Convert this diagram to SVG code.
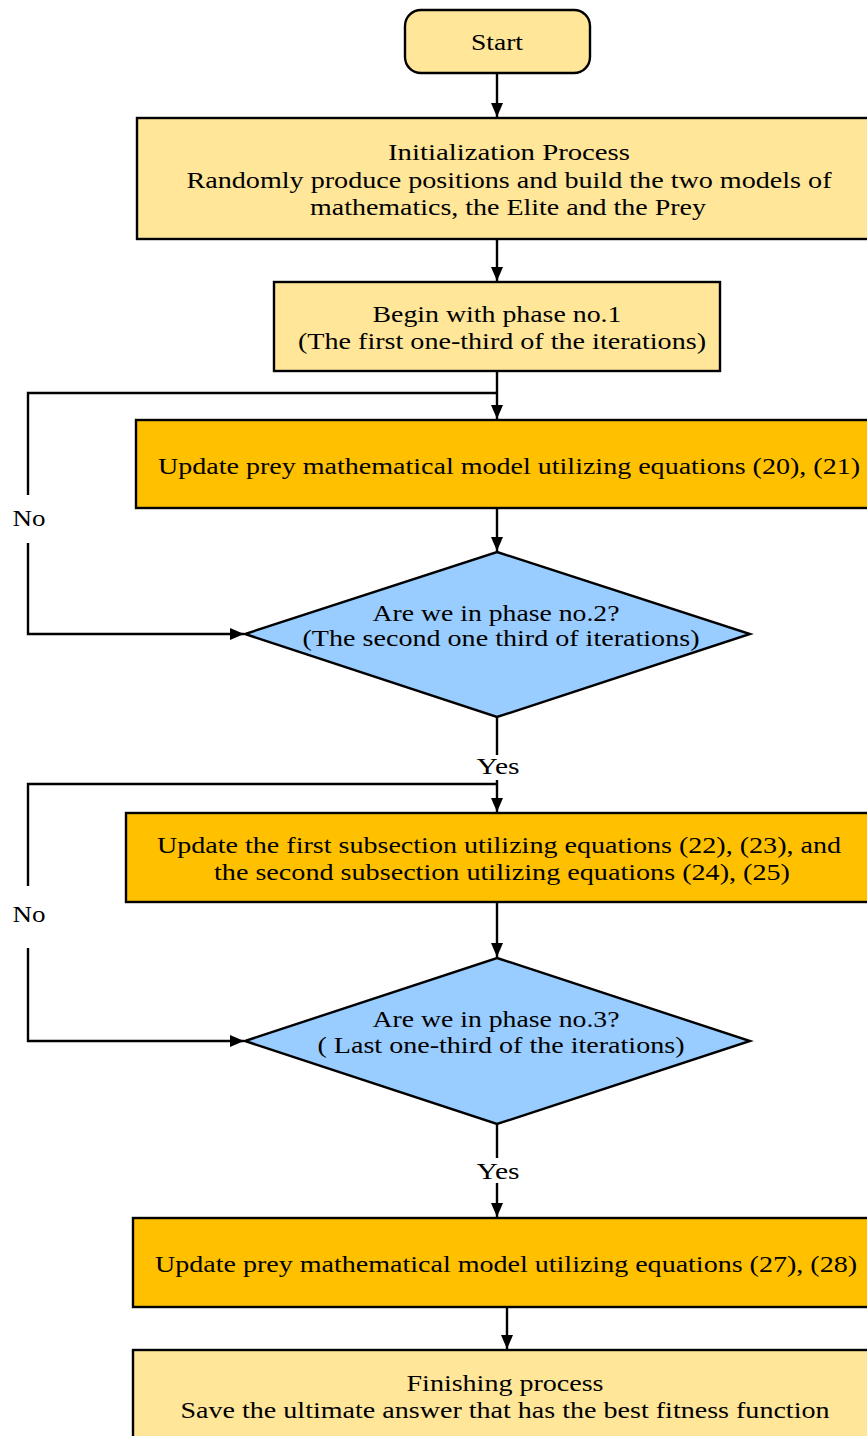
<svg xmlns="http://www.w3.org/2000/svg" width="867" height="1436" viewBox="0 0 867 1436">
<style>
.box{stroke:#000;stroke-width:2.4}
.light{fill:#FFE699}
.orange{fill:#FFC000}
.blue{fill:#99CCFF}
text{font-family:"Liberation Serif","Times New Roman",serif;font-size:24px;fill:#000;text-anchor:middle}
.conn path{fill:none;stroke:#000;stroke-width:2.4}
</style>
<defs>
<marker id="arr" viewBox="0 0 14 12" refX="14" refY="6" markerWidth="14" markerHeight="12" markerUnits="userSpaceOnUse" orient="auto">
<path d="M0,0 L14,6 L0,12 Z" fill="#000"/>
</marker>
</defs>
<rect width="867" height="1436" fill="#fff"/>
<g id="start">
<rect class="box light" x="405" y="10" width="185" height="63" rx="16"/>
<text x="497" y="50" textLength="52" lengthAdjust="spacingAndGlyphs">Start</text>
</g>
<g id="init">
<rect class="box light" x="137" y="118" width="740" height="121"/>
<text x="509" y="160" textLength="242" lengthAdjust="spacingAndGlyphs">Initialization  Process</text>
<text x="509" y="188" textLength="645" lengthAdjust="spacingAndGlyphs">Randomly produce positions and build the two models of</text>
<text x="508" y="215" textLength="396" lengthAdjust="spacingAndGlyphs">mathematics, the Elite and the Prey</text>
</g>
<g id="phase1">
<rect class="box light" x="274" y="282" width="446" height="89"/>
<text x="497" y="322" textLength="249" lengthAdjust="spacingAndGlyphs">Begin with phase no.1</text>
<text x="502" y="349" textLength="408" lengthAdjust="spacingAndGlyphs">(The first one-third of the iterations)</text>
</g>
<g id="update1">
<rect class="box orange" x="136" y="420" width="740" height="88"/>
<text x="509" y="474" textLength="702" lengthAdjust="spacingAndGlyphs">Update prey mathematical model utilizing equations (20), (21)</text>
</g>
<g id="decision2">
<polygon class="box blue" points="497,552 750,634 497,717 245,634"/>
<text x="496" y="621" textLength="247" lengthAdjust="spacingAndGlyphs">Are we in phase no.2?</text>
<text x="501" y="646" textLength="397" lengthAdjust="spacingAndGlyphs">(The second one third of iterations)</text>
</g>
<g id="update2">
<rect class="box orange" x="126" y="813" width="750" height="89"/>
<text x="499" y="853" textLength="684" lengthAdjust="spacingAndGlyphs">Update the first subsection utilizing equations (22), (23), and</text>
<text x="502" y="880" textLength="576" lengthAdjust="spacingAndGlyphs">the second subsection utilizing equations (24), (25)</text>
</g>
<g id="decision3">
<polygon class="box blue" points="497,958 750,1041 497,1124 245,1041"/>
<text x="496" y="1027" textLength="247" lengthAdjust="spacingAndGlyphs">Are we in phase no.3?</text>
<text x="501" y="1053" textLength="367" lengthAdjust="spacingAndGlyphs">( Last one-third of the iterations)</text>
</g>
<g id="update3">
<rect class="box orange" x="133" y="1218" width="743" height="89"/>
<text x="506" y="1272" textLength="702" lengthAdjust="spacingAndGlyphs">Update prey mathematical model utilizing equations (27), (28)</text>
</g>
<g id="finish">
<rect class="box light" x="133" y="1350" width="743" height="100"/>
<text x="505" y="1391" textLength="197" lengthAdjust="spacingAndGlyphs">Finishing process</text>
<text x="505" y="1418" textLength="649" lengthAdjust="spacingAndGlyphs">Save the ultimate answer that has the best fitness function</text>
</g>
<g id="connectors" class="conn">
<path d="M497,73 V117" marker-end="url(#arr)"/>
<path d="M497,239 V281" marker-end="url(#arr)"/>
<path d="M497,371 V419" marker-end="url(#arr)"/>
<path d="M497,508 V551" marker-end="url(#arr)"/>
<path d="M497,717 V755"/>
<path d="M497,780 V812" marker-end="url(#arr)"/>
<path d="M497,902 V957" marker-end="url(#arr)"/>
<path d="M497,1124 V1158"/>
<path d="M497,1183 V1217" marker-end="url(#arr)"/>
<path d="M507,1307 V1349" marker-end="url(#arr)"/>
<path d="M28,495 V393 H497"/>
<path d="M28,543 V634 H244" marker-end="url(#arr)"/>
<path d="M28,886 V784 H497"/>
<path d="M28,948 V1041 H244" marker-end="url(#arr)"/>
<g id="labels">
<text x="29" y="526" textLength="33" lengthAdjust="spacingAndGlyphs">No</text>
<text x="29" y="922" textLength="33" lengthAdjust="spacingAndGlyphs">No</text>
<text x="498" y="774" textLength="43" lengthAdjust="spacingAndGlyphs">Yes</text>
<text x="498" y="1179" textLength="43" lengthAdjust="spacingAndGlyphs">Yes</text>
</g>
</g>
</svg>
